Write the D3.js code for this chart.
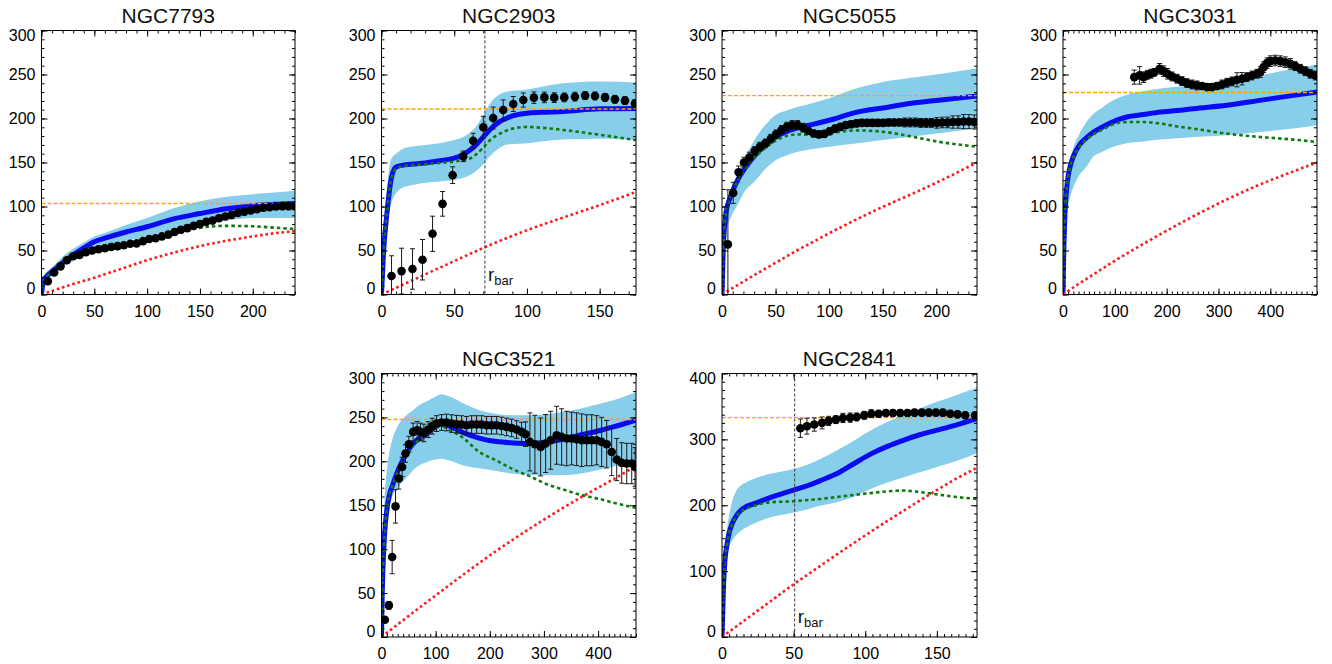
<!DOCTYPE html>
<html><head><meta charset="utf-8">
<script src="https://cdn.jsdelivr.net/npm/d3@7"></script>
<style>
html,body{margin:0;padding:0;background:#fff;}
svg{display:block;font-family:"Liberation Sans",Arial,Helvetica,sans-serif;}
</style></head><body>
<svg id="chart" width="1332" height="664"></svg>
<script>
// ---------------- DATA ----------------
// NGC7793
const n7793ObsR = [6,12,18,24,30,36,42,48,54,60,66,72,78,84,90,96,102,108,114,120,126,132,138,144,150,156,162,168,174,180,186,192,198,204,210,216,222,228,234,240];
const n7793ObsV = [15,25,32,39,43.5,45,48,50,51.5,52.6,54,55,56,57.6,58,60.6,63,64,66,68,71,73.5,75.4,78,80,82.6,84,86.7,88.6,90.5,92.8,94,95.5,97,98.5,99.2,100,100.4,100.4,100.4];
const n7793ObsE = [3,3,3,3,3,3,3,3,3,3,3,3,3,3,3,3,3,3,3,3,3.5,3.5,3.5,3.5,3.5,3.5,3.5,3.5,3.5,3.5,3.5,3.5,3.5,3.5,3.5,3.5,3.5,4,4,4];
const n7793ModR = [0,1,3,6,10,15,20,30,40,50,60,80,100,125,150,175,200,220,240];
const n7793ModV = [0,10,18,22,26,31,36,45,53,60,64,71,77,86,92,97.5,101,102.5,103.5];
const n7793BandHi = [0,12,22,27,31,37,43,52,59,66,70,79,87,98,106,111,114,116,118];
const n7793BandLo = [0,8,15,18,21,26,31,38,45,51,55,61,66,74,80,84,87,87,87];
const n7793Disk = [0,10,18,22,26,31,35,43,49,53,56,59.5,64,71,76,78,77.5,76,74.5];
const n7793Halo = [0,0.4,1.2,2.4,4,6,8,12,15.5,19,23,31,39,47.5,55,61,66,69.5,72];
const n7793Vflat = 103.4;

// NGC2903
const n2903ObsR = [6.9,13.8,21.3,28.2,35.1,42,48.9,56.2,63,70,76.8,83.7,90.6,97.5,104.8,112,118.8,125.7,133,140,146.8,153.7,160.5,167.4,174.3];
const n2903ObsV = [21,26.6,29,39.5,69,103,135.6,157,174.7,190,200.5,209.6,216.5,221,223.7,224,223.7,224,224.8,226,225.6,224,221.8,220.3,217];
const n2903ObsE = [23,26,23,23,20,14,9.5,6,8.5,12.5,12.5,11.5,8.5,8,6.5,6,5.5,5,5,4.5,4.5,4.5,4.5,4.5,4.5];
const n2903ModR = [0,1,2,3,5,7,10,15,20,30,40,50,55,60,65,70,75,80,85,90,100,110,125,150,175];
const n2903ModV = [0,35,62,80,112,134,145,147,148,149.5,152,155,158,163,170,179,188,195,199.5,203,206,207,208,211,211.5];
const n2903BandHi = [0,45,80,105,140,155,160,166,168,170,172,175.5,178,183,191,204,218,226,230,231.5,233,236,240,242,241];
const n2903BandLo = [0,25,48,65,90,105,115,122,124,127,128.5,130,132,135,140,148,158,165,170,171,172,174,176,177,175.5];
const n2903Disk = [0,35,62,80,112,133,143,146,147,148,149.5,151,152.5,154,159,167,176,181.5,185.5,188.5,190.5,189.5,187,181.5,175.5];
const n2903Halo = [0,0.8,1.5,2.3,3.8,5.3,7.6,11.4,15.2,22.8,30.4,38,41.8,45.5,49.2,53,56.5,60,63.3,66.6,73,79,87.5,101.5,116.5];
const n2903Vflat = 210.8;
const n2903Rbar = 71.1;

// NGC5055
const n5055ObsR = [5.5,10.5,15.5,20.5,25.5,30.5,35.5,40.5,45.5,50.5,55.5,60.5,65.5,70.5,75.5,80.5,85.5,90.5,95.5,100.5,105.5,110.5,115.5,120.5,125.5,130.5,135.5,140.5,145.5,150.5,155.5,160.5,165.5,170.5,175.5,180.5,185.5,190.5,195.5,200.5,205.5,210.5,215.5,220.5,225.5,230.5,235.5];
const n5055ObsV = [57,115.5,139,150,155.7,163,168,171.7,177,182,187,190.7,192.6,192.6,189.5,186,183,182,182.5,185.5,188.5,190.5,192.5,193.5,194.5,195,195,195,195,195,195.5,195.5,195.5,195.5,195.5,195.5,195,195,195,195,195.5,195.5,196,196,196.5,196.5,196];
const n5055ObsE = [62,12,7,6,6,5,5,5,5,5,5,5,5,5,5,4,4,4,4,4,4,4,4,4,4,4,4,4,4,4,4,4,4,5,5,5,5,5,5,6,6,6,7,7,8,8,8];
const n5055ModR = [0,1,2,4,7,10,15,20,30,40,50,60,70,80,100,125,150,175,200,238];
const n5055ModV = [0,45,72,95,108,118,131,141,157,170,179,185,189,192,198,207,212,217,220.5,225.5];
const n5055BandHi = [0,55,82,104,116,124,138,152,175,192,204,209,213,216,223,234,241.5,246,250,257];
const n5055BandLo = [0,38,55,72,84,92,103,115,128,142,152.5,158,162,164.5,168,171.5,175.5,179,183,189];
const n5055Disk = [0,45,72,95,108,118,130,140,155,166,175,180,182,181.5,183.5,186.5,185,180,174,168];
const n5055Halo = [0,0.75,1.5,3,5.2,7.4,11,14.7,22,29,36,43,50,56.5,69.5,85,99.5,113,127,150];
const n5055Vflat = 226;

// NGC3031
const n3031ObsR = [137.5,147.8,155.5,163.2,169.7,176,186.4,194.1,201.8,210.3,219.9,229.5,239.2,248.8,258.5,268.1,277.8,287.4,297,306.7,316.4,326,335.6,345.3,354.9,364.6,374.2,380.6,387,393.5,399.9,409.5,419.2,428.8,438.5,448.1,457.8,467.4,477,486.7];
const n3031ObsV = [247,249,247,249.7,250.9,252.4,256.5,253.8,250.8,247.8,245.2,242.5,240.2,238.7,237.6,236.9,235.7,235.7,236.9,238.7,240.6,242.1,244,245.2,247,248.9,250.8,252.7,258.4,262.9,265.2,265.9,265.2,264,262.1,259.5,256.5,253.8,250.8,248.9];
const n3031ObsE = [8,10,6,5,5,4,6,6,6,5,5,5,5,5,5,4,4,4,4,5,5,5,8,7,5,5,5,6,6,6,6,6,6,6,6,5,5,5,5,5];
const n3031ModR = [0,1,2,4,7,10,15,20,33,45,59,75,91,123,155,188,220,252,316,380,445,490];
const n3031ModV = [0,35,60,95,120,135,148,157,171,178,184.6,190,195,201.7,204.5,207.3,209,211.2,215,220.6,226.3,230];
const n3031BandHi = [0,50,80,112,133,145,157,167,184,196,205.5,212,218.7,227,231,234,236,238,241.4,249,256.5,261.4];
const n3031BandLo = [0,25,45,68,88,100,114,122,137,145,157,162,166.5,172,174,176,177.5,179,181,184.6,188.5,192.2];
const n3031Disk = [0,35,60,95,120,135,148,156,169,176,182,187,192,196,196,194.2,191,188.5,182.8,179,176,173.3];
const n3031Halo = [0,0.4,0.8,1.6,2.8,4,6,8,13,17.5,23,29,35,46.5,57.5,68.5,79,89,108,125,140,150];
const n3031Vflat = 229.5;

// NGC3521
const n3521ObsR = [6.2,13.6,19.7,25.9,32,38,44.3,50.5,58.4,65.8,72,78.2,86.2,93.6,101.7,110.9,120.1,129.4,138.6,147.9,157.1,166.4,175.6,184.9,194.1,203.3,212.6,221.8,231,240.3,249.5,258.7,266.1,274.1,283.3,293.9,303.1,312.4,323.5,332.7,342,351.2,360.4,369.7,378.9,388.2,397.4,406.6,415.9,425.1,434.4,443.6,452.9,462.1,468.2];
const n3521ObsV = [19.7,36,91,148.7,180.4,193.6,208.9,219.5,233.5,235.4,233.5,232.3,236.2,240,243,244.2,244.2,243,242.3,241.9,241.1,241.9,241.9,241.9,241.1,241.1,241.1,240.3,239.2,238,236.2,233.5,230.9,222.1,219.5,216.4,220.3,224,229.7,227.8,226,226,225.2,224,224,224,224,222.1,219.5,210.7,202,198.2,197.5,197.5,193.6];
const n3521ObsE = [3,4.5,19,19,12,11,10,9,10,10,10,10,9,9,9,9,9.5,10,10,10,10,10,10,10,10,10,10,10,10,10,10,11,14,33,33,33,33,33,33,32,31,30,30,30,29,29,28,28,27,27,24,23,23,23,22];
const n3521ModR = [0,1,3,6,10,15,20,30,46,60,70,83,95,110,125,150,180,212,243,274,305,335,367,400,428,470];
const n3521ModV = [0,40,83,120,145,163,172,189,209,221,226,231,237,243,240,233,226.5,222.5,221,220.3,222,225,230,234.5,239.2,247];
const n3521BandHi = [0,55,115,160,190,212,225,240,252.5,259,264,268,272,276.4,274,266.5,258.5,254,252.5,252.5,253.6,256.5,260,265,269.6,279];
const n3521BandLo = [0,25,55,90,125,150,160,170,181,191,195.6,199,201.5,203,201,195.6,192,189,186,184.5,184.2,184.5,186,190,194,201];
const n3521Disk = [0,40,83,120,145,163,172,188,207,219,225,231,236,240,236,227,211,201,191,183,174,168,162,157.5,153,147];
const n3521Halo = [0,0.5,1.4,2.9,4.8,7.2,9.6,14.4,22,28.7,33.4,39.5,45,52,59,70.5,84,98,111,123.5,135.5,147,158.5,170,179.5,195];
const n3521Vflat = 247.6;

// NGC2841
const n2841ObsR = [54.7,59.3,64.4,69.8,74.4,79.5,84.4,89.5,94,99.3,104.2,109.3,114.4,119.3,124.4,129.5,134.4,139.5,144.4,149.3,154.2,159.3,164.4,169.8,176.7];
const n2841ObsV = [317,320,322.5,325,328,330,332.5,333,334,336.5,339,339,340,340,340,340,340.6,340.6,340.6,340.6,340.6,339,338,336.5,336.5];
const n2841ObsE = [14,12,10,9,7,6,7,7,6,6,6,5,5,5,5,5,5,5,5,5,5,5,5,5,5];
const n2841ModR = [0,1,2,3.5,5,7,10,13,17,22,34,50,60,69,80,92,104,115,127,138,150,162,178];
const n2841ModV = [0,75,115,141,158,171.6,184,192,198,202,212,223,230,237.6,247.7,263,278,289,299,307,314,321,331.5];
const n2841BandHi = [0,90,135,165,185,205,222,230,235,240,247.7,255,262,270.6,283,298,313.7,326,336.5,347,357,366,378.7];
const n2841BandLo = [0,60,95,118,136,146,155,161,166.5,172,181.7,189,194,199.5,204.5,213,225,234,242.6,250,258,266,279];
const n2841Disk = [0,75,115,141,158,171,183,190,195,199,204.6,206,208,209.6,212.5,215.7,218.5,221,222.3,220,216.5,213,209.6];
const n2841Halo = [0,1.6,3.2,5.6,8,11.2,16,20.8,27.2,35.2,54.4,80,95,108.5,125,142.5,160,175.5,192,207,223,238.5,257];
const n2841Vflat = 333;
const n2841Rbar = 50.7;

// tick labels
const xTicks50_200 = [0,50,100,150,200];
const xTicks50_150 = [0,50,100,150];
const xTicks100_400 = [0,100,200,300,400];
const yTicks300 = [0,50,100,150,200,250,300];
const yTicks400 = [0,100,200,300,400];

const galaxies = [
  {name:"NGC7793", xMax:240, yMax:300, xTicks:xTicks50_200, yTicks:yTicks300, xMinor:10, yMinor:10,
   obsR:n7793ObsR, obsV:n7793ObsV, obsE:n7793ObsE, modR:n7793ModR, modV:n7793ModV, hi:n7793BandHi, lo:n7793BandLo, disk:n7793Disk, halo:n7793Halo, vflat:n7793Vflat, rbar:null},
  {name:"NGC2903", xMax:175, yMax:300, xTicks:xTicks50_150, yTicks:yTicks300, xMinor:10, yMinor:10,
   obsR:n2903ObsR, obsV:n2903ObsV, obsE:n2903ObsE, modR:n2903ModR, modV:n2903ModV, hi:n2903BandHi, lo:n2903BandLo, disk:n2903Disk, halo:n2903Halo, vflat:n2903Vflat, rbar:n2903Rbar},
  {name:"NGC5055", xMax:238, yMax:300, xTicks:xTicks50_200, yTicks:yTicks300, xMinor:10, yMinor:10,
   obsR:n5055ObsR, obsV:n5055ObsV, obsE:n5055ObsE, modR:n5055ModR, modV:n5055ModV, hi:n5055BandHi, lo:n5055BandLo, disk:n5055Disk, halo:n5055Halo, vflat:n5055Vflat, rbar:null},
  {name:"NGC3031", xMax:490, yMax:300, xTicks:xTicks100_400, yTicks:yTicks300, xMinor:10, yMinor:10,
   obsR:n3031ObsR, obsV:n3031ObsV, obsE:n3031ObsE, modR:n3031ModR, modV:n3031ModV, hi:n3031BandHi, lo:n3031BandLo, disk:n3031Disk, halo:n3031Halo, vflat:n3031Vflat, rbar:null},
  {name:"NGC3521", xMax:470, yMax:300, xTicks:xTicks100_400, yTicks:yTicks300, xMinor:10, yMinor:10,
   obsR:n3521ObsR, obsV:n3521ObsV, obsE:n3521ObsE, modR:n3521ModR, modV:n3521ModV, hi:n3521BandHi, lo:n3521BandLo, disk:n3521Disk, halo:n3521Halo, vflat:n3521Vflat, rbar:null},
  {name:"NGC2841", xMax:178, yMax:400, xTicks:xTicks50_150, yTicks:yTicks400, xMinor:5, yMinor:12.5,
   obsR:n2841ObsR, obsV:n2841ObsV, obsE:n2841ObsE, modR:n2841ModR, modV:n2841ModV, hi:n2841BandHi, lo:n2841BandLo, disk:n2841Disk, halo:n2841Halo, vflat:n2841Vflat, rbar:n2841Rbar}
];

// ---------------- LAYOUT ----------------
const layout = [
  {left:41.5, right:295, top:30.5, bottom:294.5},
  {left:381.5, right:636, top:30.5, bottom:294.5},
  {left:722, right:977, top:30.5, bottom:294.5},
  {left:1063, right:1317, top:30.5, bottom:294.5},
  {left:381.5, right:636, top:373.5, bottom:637},
  {left:722, right:977, top:373.5, bottom:637}
];

const svg = d3.select("#chart");

galaxies.forEach((g, i) => {
  const L = layout[i];
  const x = d3.scaleLinear().domain([0, g.xMax]).range([L.left, L.right]);
  const y = d3.scaleLinear().domain([0, g.yMax]).range([L.bottom, L.top]);
  const G = svg.append("g");
  const clipId = "clip" + i;
  G.append("clipPath").attr("id", clipId).append("rect")
    .attr("x", L.left).attr("y", L.top).attr("width", L.right - L.left).attr("height", L.bottom - L.top);
  const plot = G.append("g").attr("clip-path", `url(#${clipId})`);

  const model = g.modR.map((r, k) => ({r, v: g.modV[k], lo: g.lo[k], hi: g.hi[k], disk: g.disk[k], halo: g.halo[k]}));
  const curve = d3.curveMonotoneX;

  plot.append("path").datum(model)
    .attr("d", d3.area().x(d => x(d.r)).y0(d => y(d.lo)).y1(d => y(d.hi)).curve(curve))
    .attr("fill", "#87ceeb");

  plot.append("path").datum(model)
    .attr("d", d3.line().x(d => x(d.r)).y(d => y(d.v)).curve(curve))
    .attr("fill", "none").attr("stroke", "#0a0af5").attr("stroke-width", 5);

  plot.append("path").datum(model)
    .attr("d", d3.line().x(d => x(d.r)).y(d => y(d.disk)).curve(curve))
    .attr("fill", "none").attr("stroke", "#107a10").attr("stroke-width", 2.6).attr("stroke-dasharray", "3.5 3");

  plot.append("path").datum(model)
    .attr("d", d3.line().x(d => x(d.r)).y(d => y(d.halo)).curve(curve))
    .attr("fill", "none").attr("stroke", "#ff1a1a").attr("stroke-width", 2.6).attr("stroke-dasharray", "2.6 2.8");

  plot.append("line")
    .attr("x1", L.left).attr("x2", L.right).attr("y1", y(g.vflat)).attr("y2", y(g.vflat))
    .attr("stroke", "#ffa500").attr("stroke-width", 1.4).attr("stroke-dasharray", "4 2");

  if (g.rbar !== null) {
    plot.append("line")
      .attr("x1", x(g.rbar)).attr("x2", x(g.rbar)).attr("y1", L.top).attr("y2", L.bottom)
      .attr("stroke", "#444").attr("stroke-width", 1.1).attr("stroke-dasharray", "3 2");
    const t = G.append("text").attr("x", x(g.rbar) + 3).attr("y", L.bottom - 14)
      .attr("font-size", 19).attr("fill", "#111").text("r");
    t.append("tspan").attr("font-size", 13).attr("dy", 4).text("bar");
  }

  const obs = g.obsR.map((r, k) => ({r, v: g.obsV[k], e: g.obsE[k]}));
  const eb = plot.append("g").attr("stroke", "#1a1a1a").attr("stroke-width", 1);
  obs.forEach(d => {
    const cx = x(d.r), y1 = y(d.v - d.e), y2 = y(d.v + d.e);
    eb.append("line").attr("x1", cx).attr("x2", cx).attr("y1", y1).attr("y2", y2);
    eb.append("line").attr("x1", cx - 2.5).attr("x2", cx + 2.5).attr("y1", y1).attr("y2", y1);
    eb.append("line").attr("x1", cx - 2.5).attr("x2", cx + 2.5).attr("y1", y2).attr("y2", y2);
  });
  plot.append("g").selectAll("circle").data(obs).join("circle")
    .attr("cx", d => x(d.r)).attr("cy", d => y(d.v)).attr("r", 4.3).attr("fill", "#000");

  // axes
  const styleAxis = sel => {
    sel.select(".domain").remove();
    sel.selectAll(".tick line").attr("stroke", "#000").attr("stroke-width", 1);
    sel.selectAll("text").attr("font-size", 16).attr("fill", "#000")
      .attr("font-family", '"Liberation Sans",Arial,Helvetica,sans-serif');
  };
  const xMinorVals = d3.range(0, g.xMax + 1e-6, g.xMinor);
  const yMinorVals = d3.range(0, g.yMax + 1e-6, g.yMinor);

  G.append("g").attr("transform", `translate(0,${L.bottom})`)
    .call(d3.axisBottom(x).tickValues(xMinorVals).tickSize(-3).tickFormat("")).call(styleAxis);
  G.append("g").attr("transform", `translate(0,${L.top})`)
    .call(d3.axisTop(x).tickValues(xMinorVals).tickSize(-3).tickFormat("")).call(styleAxis);
  G.append("g").attr("transform", `translate(${L.left},0)`)
    .call(d3.axisLeft(y).tickValues(yMinorVals).tickSize(-3).tickFormat("")).call(styleAxis);
  G.append("g").attr("transform", `translate(${L.right},0)`)
    .call(d3.axisRight(y).tickValues(yMinorVals).tickSize(-3).tickFormat("")).call(styleAxis);

  G.append("g").attr("transform", `translate(0,${L.bottom})`)
    .call(d3.axisBottom(x).tickValues(g.xTicks).tickSize(-6).tickPadding(11).tickFormat(d3.format("d"))).call(styleAxis);
  G.append("g").attr("transform", `translate(0,${L.top})`)
    .call(d3.axisTop(x).tickValues(g.xTicks).tickSize(-6).tickFormat("")).call(styleAxis);
  const yl = G.append("g").attr("transform", `translate(${L.left},0)`)
    .call(d3.axisLeft(y).tickValues(g.yTicks).tickSize(-6).tickPadding(6).tickFormat(d3.format("d"))).call(styleAxis);
  yl.selectAll(".tick text").attr("transform", d => d === g.yMax ? "translate(0,5)" : (d === 0 ? "translate(0,-6)" : null));
  G.append("g").attr("transform", `translate(${L.right},0)`)
    .call(d3.axisRight(y).tickValues(g.yTicks).tickSize(-6).tickFormat("")).call(styleAxis);

  G.append("rect").attr("x", L.left).attr("y", L.top)
    .attr("width", L.right - L.left).attr("height", L.bottom - L.top)
    .attr("fill", "none").attr("stroke", "#000").attr("stroke-width", 1);

  G.append("text").attr("x", (L.left + L.right) / 2).attr("y", L.top - 8)
    .attr("text-anchor", "middle").attr("font-size", 21).attr("fill", "#111").text(g.name);
});
</script>
</body></html>
